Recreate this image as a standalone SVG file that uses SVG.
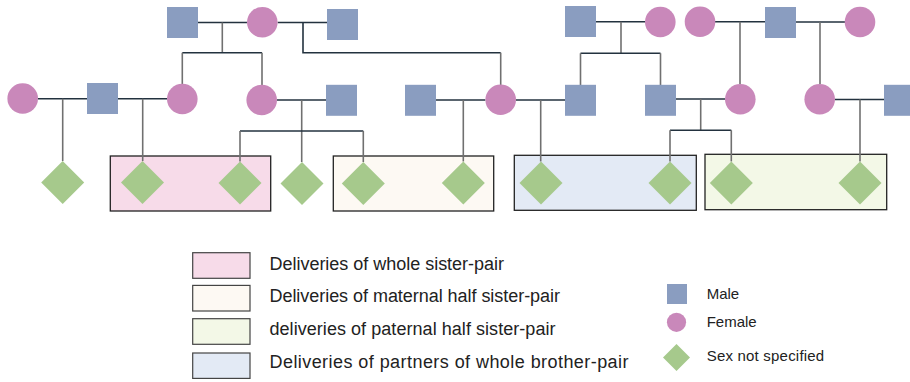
<svg xmlns="http://www.w3.org/2000/svg" width="910" height="382" viewBox="0 0 910 382">
  <style>
    .male { fill: #8a9dc0; }
    .female { fill: #c988ba; }
    .unk { fill: #a6c98c; }
    .couple { stroke: #23323f; stroke-width: 1.6; fill: none; }
    .desc { stroke: #707070; stroke-width: 1.6; fill: none; }
    .sib { stroke: #23323f; stroke-width: 1.6; fill: none; }
    .grp { stroke: #222; stroke-width: 1.3; }
    .whole { fill: #f7dbe9; }
    .mat { fill: #fdf9f3; }
    .pat { fill: #f3f8e7; }
    .bro { fill: #e3eaf5; }
    .leg { stroke: #444; stroke-width: 1.2; }
    text { font-family: "Liberation Sans", Arial, sans-serif; fill: #222; }
    .lg { font-size: 18px; }
    .ls { font-size: 15px; }
  </style>
  <defs>
    <rect id="sq" x="-15.5" y="-15.5" width="31" height="31"/>
    <circle id="ci" r="15.3"/>
    <polygon id="di" points="0,-21.5 21.5,0 0,21.5 -21.5,0"/>
  </defs>

  <!-- group frames -->
  <g id="frames">
    <rect class="grp whole" x="110.3" y="156" width="160.4" height="55"/>
    <rect class="grp mat" x="333.3" y="156" width="160.4" height="55"/>
    <rect class="grp bro" x="514.3" y="155.3" width="182" height="55"/>
    <rect class="grp pat" x="705" y="154.3" width="181.7" height="55.4"/>
  </g>

  <!-- connectors -->
  <g id="connectors">
    <!-- generation I -->
    <path class="couple" d="M198 22.5 H247"/>
    <path class="desc" d="M222.3 22.5 V52.7"/>
    <path class="sib" d="M182.3 52.7 H262"/>
    <path class="desc" d="M182.3 52.7 V84 M262 52.7 V85"/>
    <path class="couple" d="M277.6 22.5 H327"/>
    <path class="sib" d="M303 22.5 V52.7 H500.7"/>
    <path class="desc" d="M500.7 52.7 V85"/>
    <path class="couple" d="M596 21.7 H645"/>
    <path class="desc" d="M621 21.7 V53.3"/>
    <path class="sib" d="M580.5 53.3 H660.5"/>
    <path class="desc" d="M580.5 53.3 V85 M660.5 53.3 V85"/>
    <path class="couple" d="M715 21.7 H765"/>
    <path class="desc" d="M740 21.7 V84"/>
    <path class="couple" d="M796 22 H845"/>
    <path class="desc" d="M820 22 V84"/>
    <!-- generation II -->
    <path class="couple" d="M38 98.7 H87"/>
    <path class="desc" d="M62.7 98.7 V161"/>
    <path class="couple" d="M118 98.7 H167"/>
    <path class="desc" d="M142.7 98.7 V161"/>
    <path class="couple" d="M277 100 H326"/>
    <path class="desc" d="M301.7 100 V162"/>
    <path class="sib" d="M240 131 H363.3"/>
    <path class="desc" d="M240 131 V161.5 M363.3 131 V162"/>
    <path class="couple" d="M436 100 H485.4"/>
    <path class="desc" d="M463.3 100 V161.5"/>
    <path class="couple" d="M516 100 H565"/>
    <path class="desc" d="M540.7 100 V161.5"/>
    <path class="couple" d="M676 99 H725"/>
    <path class="desc" d="M700.7 99 V130.3"/>
    <path class="sib" d="M670 130.3 H731.3"/>
    <path class="desc" d="M670 130.3 V161.5 M731.3 130.3 V161.5"/>
    <path class="couple" d="M835 99.5 H884"/>
    <path class="desc" d="M860 99.5 V161.5"/>
  </g>

  <!-- generation I -->
  <g id="m1"><use href="#sq" class="male" x="182.5" y="22.5"/></g>
  <g id="f1"><use href="#ci" class="female" x="262.3" y="22.3"/></g>
  <g id="m2"><use href="#sq" class="male" x="342.5" y="24.5"/></g>
  <g id="m3"><use href="#sq" class="male" x="580.5" y="21.5"/></g>
  <g id="f2"><use href="#ci" class="female" x="660.3" y="22"/></g>
  <g id="f3"><use href="#ci" class="female" x="700" y="21.7"/></g>
  <g id="m4"><use href="#sq" class="male" x="780.5" y="22.5"/></g>
  <g id="f4"><use href="#ci" class="female" x="860" y="22"/></g>

  <!-- generation II -->
  <g id="f5"><use href="#ci" class="female" x="22.7" y="98.5"/></g>
  <g id="m5"><use href="#sq" class="male" x="102.5" y="98.5"/></g>
  <g id="f6"><use href="#ci" class="female" x="182.3" y="99"/></g>
  <g id="f7"><use href="#ci" class="female" x="261.7" y="100"/></g>
  <g id="m6"><use href="#sq" class="male" x="341.5" y="100.3"/></g>
  <g id="m7"><use href="#sq" class="male" x="420.5" y="100.3"/></g>
  <g id="f8"><use href="#ci" class="female" x="500.7" y="99.7"/></g>
  <g id="m8"><use href="#sq" class="male" x="580.5" y="100.3"/></g>
  <g id="m9"><use href="#sq" class="male" x="660.5" y="100.3"/></g>
  <g id="f9"><use href="#ci" class="female" x="740.3" y="99.3"/></g>
  <g id="f10"><use href="#ci" class="female" x="819.7" y="99.3"/></g>
  <g id="m10"><use href="#sq" class="male" x="899.5" y="100.3"/></g>

  <!-- generation III -->
  <g id="d1"><use href="#di" class="unk" x="62.7" y="182.5"/></g>
  <g id="d2"><use href="#di" class="unk" x="142.5" y="182.5"/></g>
  <g id="d3"><use href="#di" class="unk" x="240" y="183"/></g>
  <g id="d4"><use href="#di" class="unk" x="302" y="183.5"/></g>
  <g id="d5"><use href="#di" class="unk" x="363.3" y="183.5"/></g>
  <g id="d6"><use href="#di" class="unk" x="463.3" y="183"/></g>
  <g id="d7"><use href="#di" class="unk" x="541" y="183"/></g>
  <g id="d8"><use href="#di" class="unk" x="670" y="183"/></g>
  <g id="d9"><use href="#di" class="unk" x="731.3" y="183"/></g>
  <g id="d10"><use href="#di" class="unk" x="860" y="183"/></g>

  <!-- key: frames -->
  <g id="key-frames">
    <rect class="leg whole" x="192.7" y="252.7" width="57.3" height="25.6"/>
    <text class="lg" x="269.5" y="269.5" textLength="234.5">Deliveries of whole sister-pair</text>
    <rect class="leg mat" x="192.7" y="285.4" width="57.3" height="25.6"/>
    <text class="lg" x="269.5" y="302" textLength="290.5">Deliveries of maternal half sister-pair</text>
    <rect class="leg pat" x="192.7" y="318.7" width="57.3" height="25.6"/>
    <text class="lg" x="269.5" y="334.5" textLength="286">deliveries of paternal half sister-pair</text>
    <rect class="leg bro" x="192.7" y="353" width="57.3" height="25.4"/>
    <text class="lg" x="269.5" y="368" textLength="359">Deliveries of partners of whole brother-pair</text>
  </g>

  <!-- key: symbols -->
  <g id="key-symbols">
    <rect class="male" x="667" y="284" width="20" height="20"/>
    <text class="ls" x="706.7" y="299.3">Male</text>
    <circle class="female" cx="676.5" cy="322.3" r="9.6"/>
    <text class="ls" x="706.7" y="327.3">Female</text>
    <polygon class="unk" points="676.5,344 690,357.5 676.5,371 663,357.5"/>
    <text class="ls" x="706.7" y="361" textLength="117.5">Sex not specified</text>
  </g>
</svg>
